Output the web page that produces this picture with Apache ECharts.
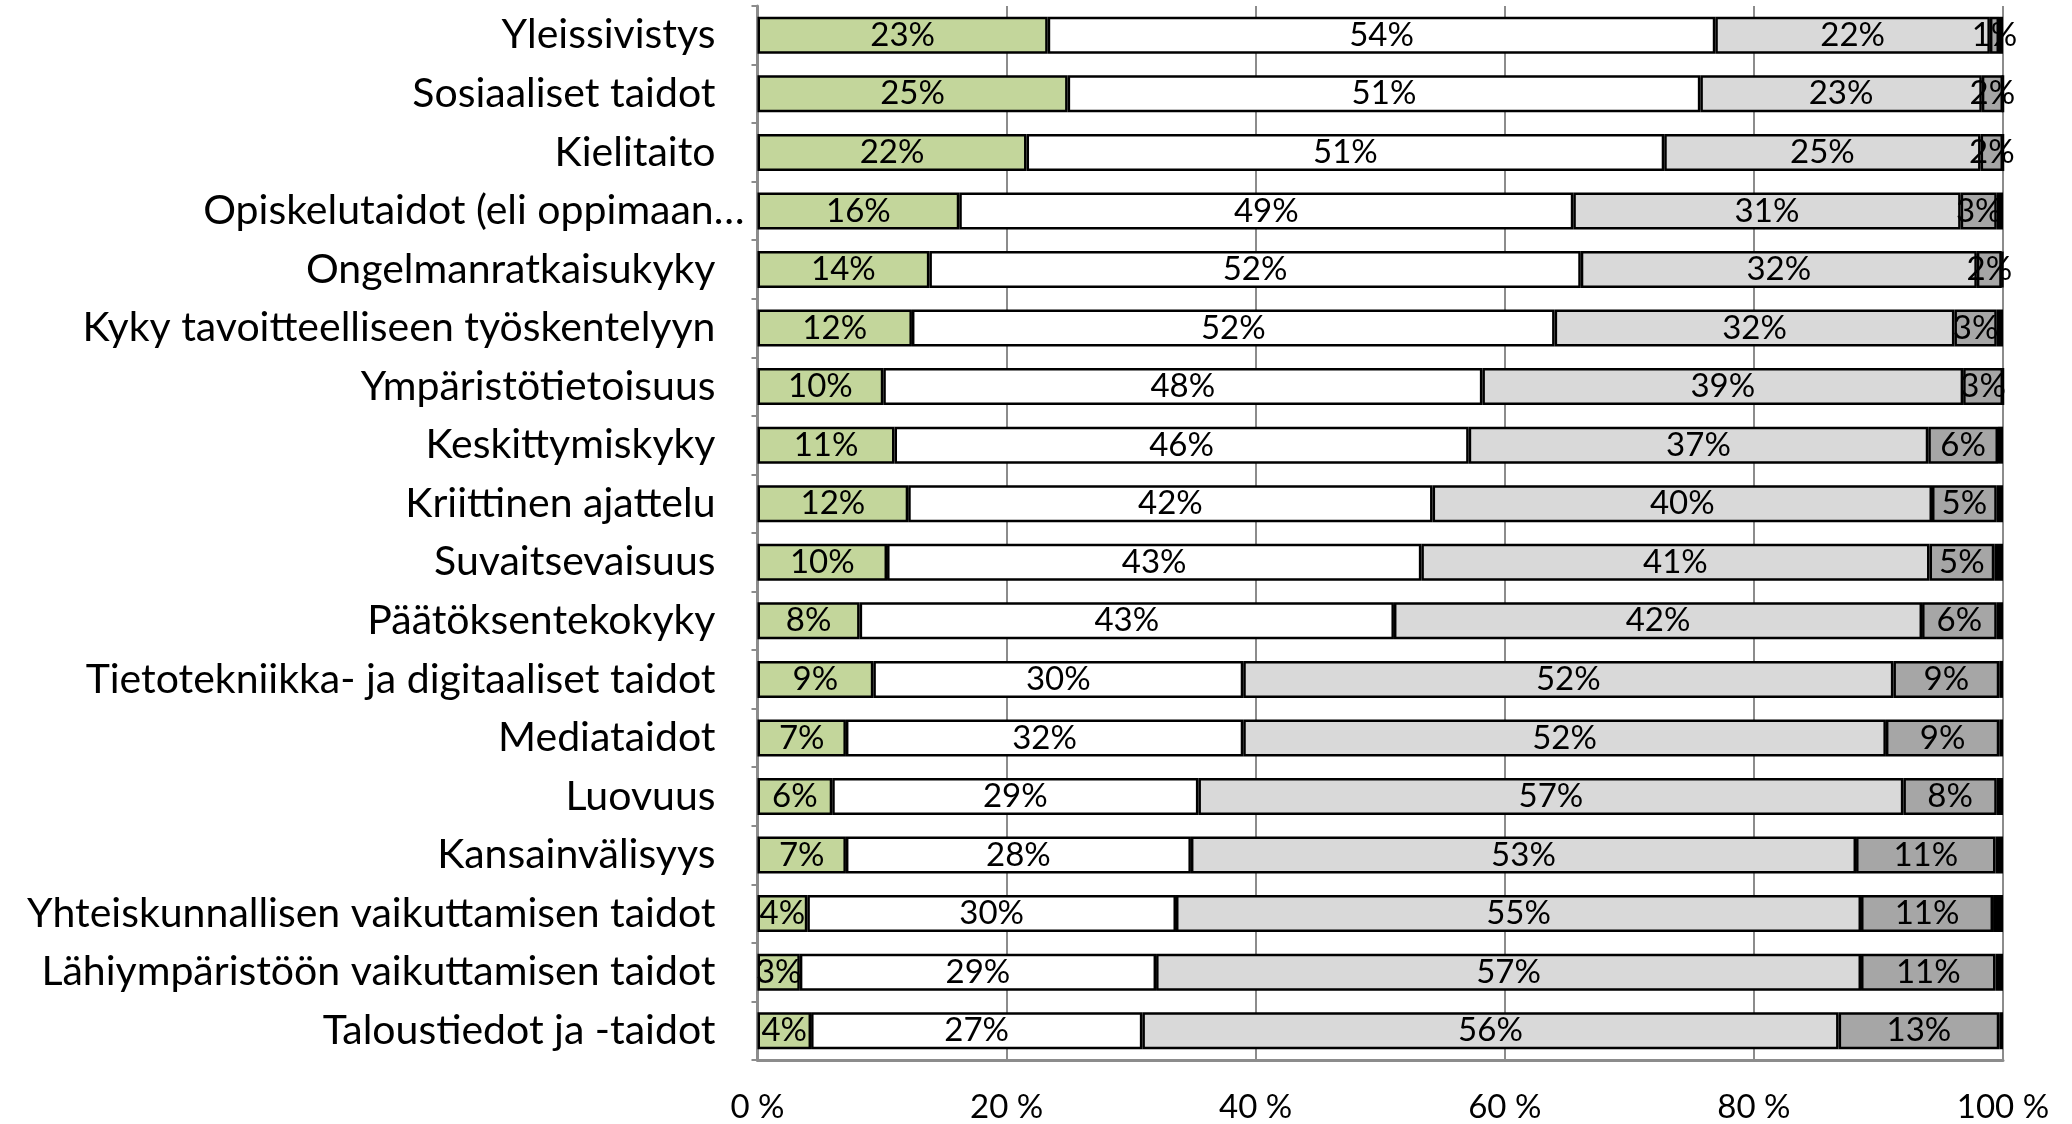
<!DOCTYPE html>
<html>
<head>
<meta charset="utf-8">
<script src="https://cdn.jsdelivr.net/npm/echarts@6/dist/echarts.min.js"></script>
<style>
  html,body{margin:0;padding:0;background:#fff;}
  #chart{width:2072px;height:1124px;}
</style>
</head>
<body>
<div id="chart"></div>
<script>
/*kategoriat ylhäältä alas*/
var categories = [
    "Yleissivistys",
    "Sosiaaliset taidot",
    "Kielitaito",
    "Opiskelutaidot (eli oppimaan…",
    "Ongelmanratkaisukyky",
    "Kyky tavoitteelliseen työskentelyyn",
    "Ympäristötietoisuus",
    "Keskittymiskyky",
    "Kriittinen ajattelu",
    "Suvaitsevaisuus",
    "Päätöksentekokyky",
    "Tietotekniikka- ja digitaaliset taidot",
    "Mediataidot",
    "Luovuus",
    "Kansainvälisyys",
    "Yhteiskunnallisen vaikuttamisen taidot",
    "Lähiympäristöön vaikuttamisen taidot",
    "Taloustiedot ja -taidot"
];
/*osuudet prosentteina, luettu kuvasta*/
var green = [23.3, 24.9, 21.6, 16.2, 13.8, 12.4, 10.1, 11.0, 12.1, 10.4, 8.2, 9.3, 7.1, 6.0, 7.1, 4.0, 3.4, 4.3];
var white = [53.6, 50.8, 51.2, 49.3, 52.3, 51.6, 48.1, 46.1, 42.1, 42.9, 42.9, 29.7, 31.9, 29.4, 27.7, 29.6, 28.6, 26.6];
var lightGray = [22.05, 22.6, 25.4, 31.1, 31.8, 32.1, 38.6, 36.9, 40.1, 40.8, 42.4, 52.2, 51.6, 56.6, 53.4, 55.0, 56.6, 55.9];
var darkGray = [0.73, 1.7, 1.8, 2.9, 2.0, 3.4, 3.2, 5.6, 5.2, 5.2, 6.0, 8.5, 9.1, 7.5, 11.2, 10.6, 10.8, 12.9];
var black = [0.32, 0, 0, 0.5, 0.1, 0.5, 0, 0.4, 0.5, 0.7, 0.5, 0.3, 0.3, 0.5, 0.6, 0.8, 0.6, 0.3];
var xTicks = [0, 20, 40, 60, 80, 100];

var FONT = "Lato";
var axisGray = "#8c8c8c";

var byId = function(id) {
    return document.getElementById(id);
};

/*yhden pinon sarja*/
var makeSeries = function(name, data, color, showLabel, z) {
    return {
        name: name,
        type: "bar",
        stack: "all",
        barWidth: 37,
        z: z,
        data: data,
        itemStyle: {
            color: color,
            borderColor: "#000",
            borderWidth: 2.5
        },
        label: {
            show: showLabel,
            position: "inside",
            color: "#000",
            fontFamily: FONT,
            fontSize: 33,
            formatter: function(p) {
                return Math.round(p.value) + "%";
            }
        },
        emphasis: {disabled: true}
    };
};

var chart = echarts.init(byId("chart"));
chart.setOption({
    animation: false,
    grid: {
        left: 757.5,
        right: 69,
        top: 6,
        bottom: 64
    },
    xAxis: {
        type: "value",
        min: xTicks[0],
        max: xTicks[xTicks.length - 1],
        interval: xTicks[1] - xTicks[0],
        axisLine: {show: true, lineStyle: {color: axisGray, width: 3}},
        axisTick: {show: false},
        splitLine: {show: true, lineStyle: {color: axisGray, width: 2}},
        axisLabel: {
            color: "#000",
            fontFamily: FONT,
            fontSize: 33,
            margin: 31,
            formatter: "{value} %"
        }
    },
    yAxis: {
        type: "category",
        inverse: true,
        data: categories,
        axisLine: {show: true, lineStyle: {color: axisGray, width: 3}},
        axisTick: {show: true, length: 6, lineStyle: {color: axisGray, width: 2}},
        axisLabel: {
            margin: 13,
            formatter: function(v) {
                //katkaistu otsikko ulottuu lähemmäs akselia
                return v.indexOf("…") >= 0 ? "{w|" + v + "}" : "{n|" + v + "}";
            },
            rich: {
                n: {fontFamily: FONT, fontSize: 41, color: "#000", padding: [0, 29, 0, 0]},
                w: {fontFamily: FONT, fontSize: 41, color: "#000"}
            }
        }
    },
    series: [
        makeSeries("a", green, "#c3d69b", true, 3),
        makeSeries("b", white, "#ffffff", true, 3),
        makeSeries("c", lightGray, "#d9d9d9", true, 3),
        makeSeries("d", darkGray, "#a6a6a6", true, 3),
        makeSeries("e", black, "#000000", false, 1)
    ]
});
</script>
</body>
</html>
